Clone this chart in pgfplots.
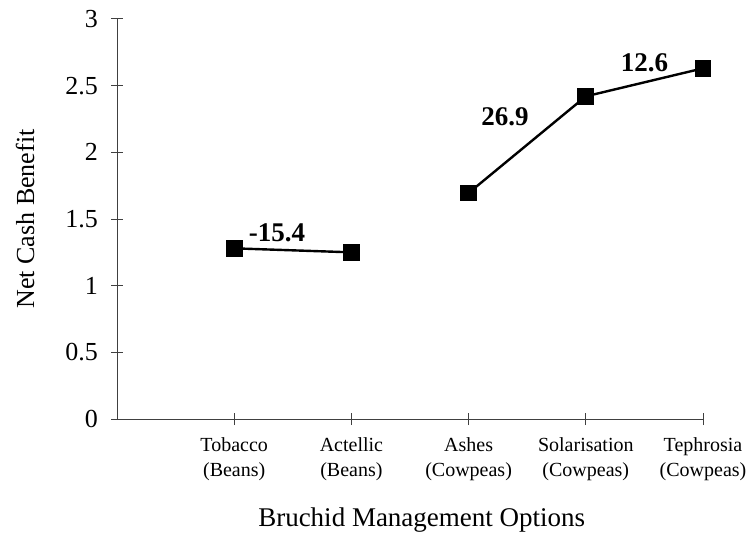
\documentclass[border=0pt]{standalone}
\usepackage{pgfplots}
\pgfplotsset{compat=1.18}
\usepackage{fontspec}
\setmainfont{Liberation Serif}
\begin{document}
\begin{tikzpicture}
\begin{axis}[
  name=ax, at={(0,0)}, anchor=south west,
  scale only axis, width=293pt, height=200pt,
  xmin=0, xmax=5, ymin=0, ymax=3,
  axis lines*=left,
  axis line style={draw=black!75, line width=0.5pt},
  xtick={1,2,3,4,5},
  xticklabels={{Tobacco\\(Beans)},{Actellic\\(Beans)},{Ashes\\(Cowpeas)},{Solarisation\\(Cowpeas)},{Tephrosia\\(Cowpeas)}},
  xticklabel style={align=center, font=\fontsize{10}{12.5}\selectfont, yshift=-3pt},
  ytick={0,0.5,1,1.5,2,2.5,3},
  yticklabels={0,0.5,1,1.5,2,2.5,3},
  yticklabel style={font=\fontsize{13}{15}\selectfont, xshift=-3pt},
  tick align=center, major tick length=6pt,
  tick style={draw=black!75, line width=0.5pt},
  xlabel={Bruchid Management Options},
  ylabel={Net Cash Benefit},
  xlabel style={font=\fontsize{13.5}{16}\selectfont, at={(axis description cs:0.52,-0.2525)}, anchor=center},
  ylabel style={font=\fontsize{13}{15}\selectfont, at={(axis description cs:-0.157,0.5)}, anchor=center},
  clip=false,
]
\addplot[black, line width=1.2pt, mark=square*, mark size=3.6pt, mark options={solid}] coordinates {(1,1.28) (2,1.25)};
\addplot[black, line width=1.2pt, mark=square*, mark size=3.6pt, mark options={solid}] coordinates {(3,1.695) (4,2.42) (5,2.63)};
\node[font=\bfseries\fontsize{13.5}{16}\selectfont] at (axis cs:1.365,1.40) {-15.4};
\node[font=\bfseries\fontsize{13.5}{16}\selectfont] at (axis cs:3.31,2.27) {26.9};
\node[font=\bfseries\fontsize{13.5}{16}\selectfont] at (axis cs:4.50,2.67) {12.6};
\end{axis}
\pgfresetboundingbox
\path ([xshift=-58.5pt,yshift=-57.5pt]ax.south west) rectangle ([xshift=24.5pt,yshift=9.5pt]ax.north east);
\end{tikzpicture}
\end{document}
